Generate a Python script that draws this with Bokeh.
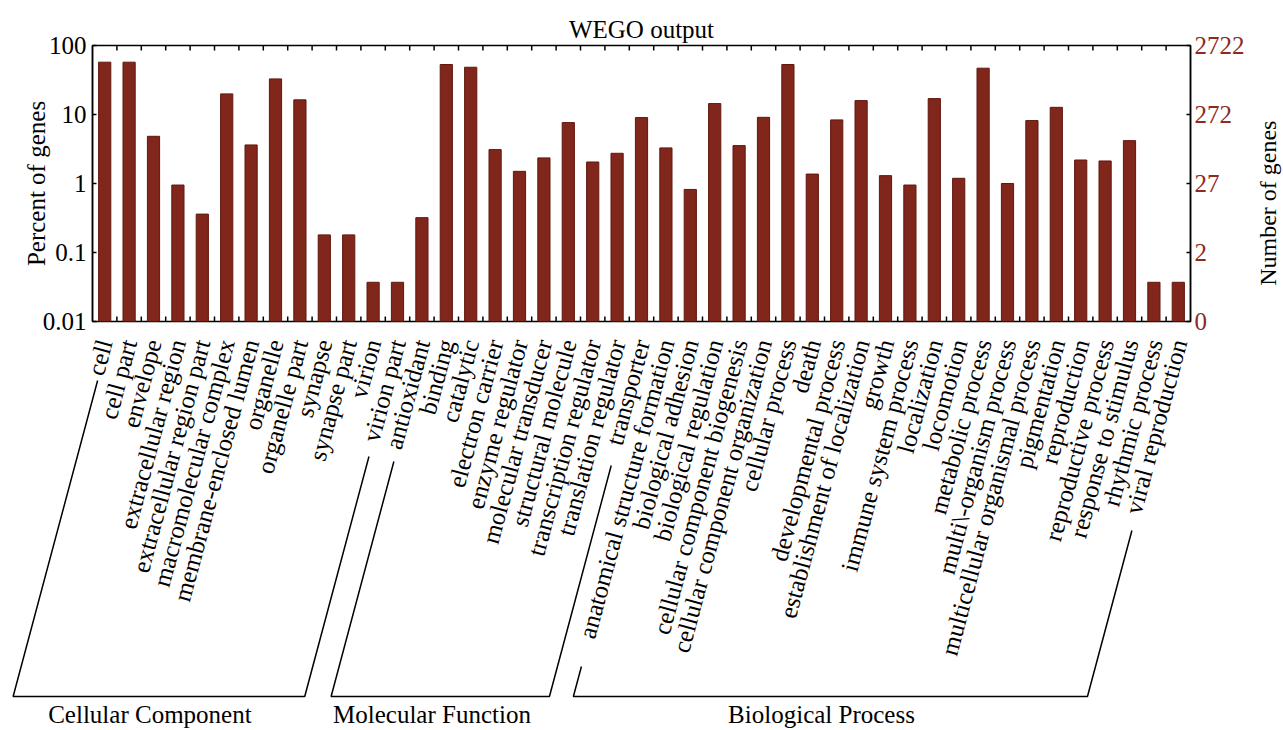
import math
from bokeh.plotting import figure
from bokeh.layouts import column, row
from bokeh.models import FactorRange, Range1d, LogAxis, FixedTicker
from bokeh.core.properties import value
from bokeh.embed import file_html
from bokeh.resources import INLINE

# ---------------- data ----------------
cc_terms = ["cell", "cell part", "envelope", "extracellular region",
            "extracellular region part", "macromolecular complex",
            "membrane-enclosed lumen", "organelle", "organelle part", "synapse",
            "synapse part", "virion", "virion part"]
cc_pct = [57.3, 57.3, 4.83, 0.95, 0.36, 19.9, 3.62, 32.8, 16.3, 0.18, 0.18, 0.037, 0.037]

mf_terms = ["antioxidant", "binding", "catalytic", "electron carrier",
            "enzyme regulator", "molecular transducer", "structural molecule",
            "transcription regulator", "translation regulator", "transporter"]
mf_pct = [0.32, 53.0, 48.4, 3.10, 1.50, 2.35, 7.63, 2.05, 2.74, 9.02]

bp_terms = ["anatomical structure formation", "biological adhesion",
            "biological regulation", "cellular component biogenesis",
            "cellular component organization", "cellular process", "death",
            "developmental process", "establishment of localization", "growth",
            "immune system process", "localization", "locomotion",
            "metabolic process", "multi\\-organism process",
            "multicellular organismal process", "pigmentation", "reproduction",
            "reproductive process", "response to stimulus", "rhythmic process",
            "viral reproduction"]
bp_pct = [3.28, 0.82, 14.4, 3.54, 9.1, 53.0, 1.37, 8.35, 15.9, 1.30, 0.95, 17.0,
          1.19, 46.9, 1.0, 8.16, 12.7, 2.19, 2.12, 4.18, 0.037, 0.037]

group_names = ["Cellular Component", "Molecular Function", "Biological Process"]

pct_ticks = [0.01, 0.1, 1, 10, 100]
pct_tick_labels = ["0.01", "0.1", "1", "10", "100"]
count_tick_labels = ["0", "2", "27", "272", "2722"]

categories = cc_terms + mf_terms + bp_terms
percents = cc_pct + mf_pct + bp_pct
n = len(categories)

# ---------------- layout & styling ----------------
FONT = "Liberation Serif"
BAR_FILL = "#80261b"
BAR_LINE = "#62170e"
RED = "#8e2a20"
W, H = 1283, 730
L = 92                      # frame left edge (px)
TOP = 45                    # frame top (px)
FRAME_H = 276               # bar area height (px)
HA = TOP + FRAME_H + 15     # height of the bar figure
u = (W - 2 * L) / n         # px per category
pad = L / u                 # padding (in categories) for the label strip
WA = (W - L) + 56           # width of the bar figure
WC = W - WA                 # width of the right title strip
HB = H - HA                 # height of the label strip


def bare(fig):
    fig.xgrid.visible = False
    fig.ygrid.visible = False
    fig.outline_line_color = None
    return fig


# ---- bar chart ----
p = figure(width=WA, height=HA,
           x_range=FactorRange(factors=categories),
           y_range=Range1d(pct_ticks[0], pct_ticks[-1]),
           y_axis_type="log", x_axis_location=None, y_axis_location=None,
           output_backend="svg", toolbar_location=None,
           min_border_left=L, min_border_right=WA - (W - L),
           min_border_top=TOP, min_border_bottom=HA - TOP - FRAME_H)
p.xgrid.visible = False
p.ygrid.visible = False
p.outline_line_color = "black"
p.outline_line_width = 1.5

p.title.text = "WEGO output"
p.title.align = "center"
p.title.text_font = FONT
p.title.text_font_size = "25px"
p.title.text_font_style = "normal"
p.title.text_color = "black"
p.title.standoff = 5

p.vbar(x=categories, top=percents, bottom=pct_ticks[0], width=0.5,
       fill_color=BAR_FILL, line_color=BAR_LINE, line_width=1)

# small inward ticks at the category boundaries, top and bottom
edges = list(range(1, n))
p.ray(x=edges, y=pct_ticks[-1], length=5, length_units="screen",
      angle=-math.pi / 2, line_color="black", line_width=1.5)
p.ray(x=edges, y=pct_ticks[0], length=5, length_units="screen",
      angle=math.pi / 2, line_color="black", line_width=1.5)

left = LogAxis(ticker=FixedTicker(ticks=pct_ticks),
               major_label_overrides=dict(zip(pct_ticks, pct_tick_labels)),
               axis_label="Percent of genes")
right = LogAxis(ticker=FixedTicker(ticks=pct_ticks),
                major_label_overrides=dict(zip(pct_ticks, count_tick_labels)))
for ax in (left, right):
    ax.major_tick_in = 4
    ax.major_tick_out = 0
    ax.minor_tick_line_color = None
    ax.axis_line_width = 1.5
    ax.major_tick_line_width = 1.5
    ax.major_label_text_font = FONT
    ax.major_label_text_font_size = "25px"
    ax.major_label_text_color = "black"
    ax.axis_label_text_font = FONT
    ax.axis_label_text_font_size = "25px"
    ax.axis_label_text_font_style = "normal"
    ax.axis_label_text_color = "black"
left.major_label_standoff = 6
left.axis_label_standoff = -10
right.major_label_standoff = 4
right.major_label_text_color = RED
p.add_layout(left, "left")
p.add_layout(right, "right")

# ---- right-hand axis title ----
side = bare(figure(width=WC, height=HA, x_range=Range1d(0, WC), y_range=Range1d(-HA, 0),
                   x_axis_location=None, y_axis_location=None, title=None,
                   output_backend="svg", toolbar_location=None,
                   min_border_left=0, min_border_right=0, min_border_top=0,
                   min_border_bottom=0))
side.text(x=[WC - 16], y=[-192], text=["Number of genes"], angle=math.pi / 2,
          text_align="center", text_baseline="middle",
          text_font=value(FONT), text_font_size="24px", text_color="black")

# ---- category labels, group brackets and group names ----
q = bare(figure(width=W, height=HB,
                x_range=FactorRange(factors=categories, range_padding=pad,
                                    range_padding_units="absolute"),
                y_range=Range1d(-HB, 0),
                x_axis_location=None, y_axis_location=None, title=None,
                output_backend="svg", toolbar_location=None,
                min_border_left=0, min_border_right=0, min_border_top=0,
                min_border_bottom=0))
q.text(x=categories, y=-3.5, text=categories, angle=math.radians(75),
       text_align="right", text_baseline="middle",
       text_font=value(FONT), text_font_size="25px", text_color="black")

bracket_xs = [[0.21, -3.25, 8.69, 11.32],
              [12.34, 9.77, 18.71, 21.24],
              [20.02, 19.69, 40.74, 42.56]]
bracket_ys = [[-44, -360, -360, -120],
              [-125, -360, -360, -129],
              [-330, -360, -360, -194]]
q.multi_line(xs=bracket_xs, ys=bracket_ys, line_color="black", line_width=1.5)
q.text(x=[2.35, 13.9, 29.85], y=-378, text=group_names,
       text_align="center", text_baseline="middle",
       text_font=value(FONT), text_font_size="25px", text_color="black")

layout = column(row(p, side), q)
open("out.html", "w").write(file_html(layout, INLINE))
